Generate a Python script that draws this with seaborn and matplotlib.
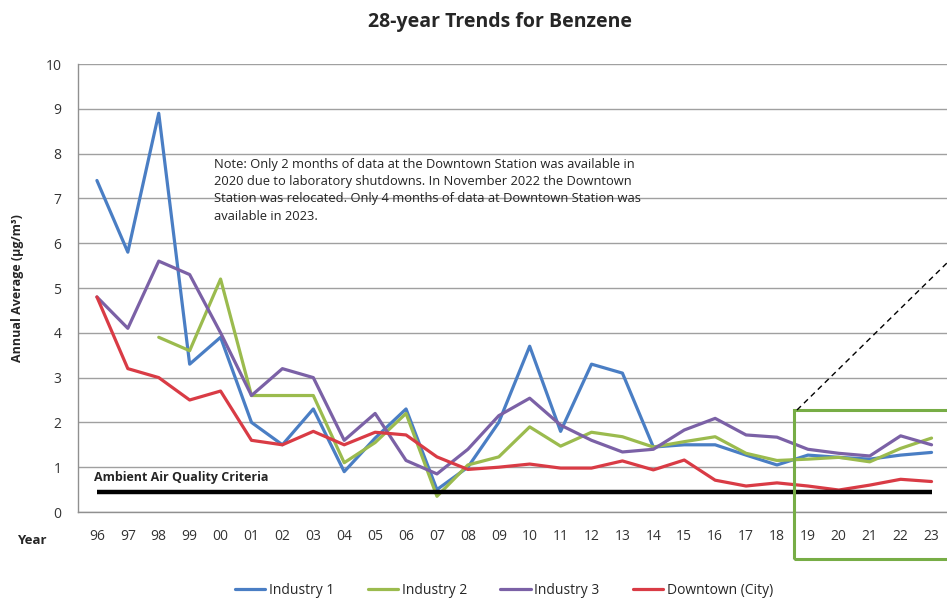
import numpy as np
import pandas as pd
import matplotlib
matplotlib.use("Agg")
import matplotlib.pyplot as plt
import seaborn as sns
from matplotlib.patches import Rectangle
from matplotlib.lines import Line2D

# annual averages (ug/m3)
years = ['96', '97', '98', '99', '00', '01', '02', '03', '04', '05', '06', '07', '08', '09',
         '10', '11', '12', '13', '14', '15', '16', '17', '18', '19', '20', '21', '22', '23']
industry1 = [7.4, 5.8, 8.9, 3.3, 3.9, 2.0, 1.5, 2.3, 0.9, 1.65, 2.3, 0.5, 1.0, 2.0,
             3.7, 1.8, 3.3, 3.1, 1.45, 1.5, 1.5, 1.27, 1.05, 1.27, 1.22, 1.18, 1.27, 1.33]
industry2 = [np.nan, np.nan, 3.9, 3.6, 5.2, 2.6, 2.6, 2.6, 1.1, 1.55, 2.2, 0.35, 1.05, 1.23,
             1.9, 1.47, 1.78, 1.68, 1.45, 1.57, 1.68, 1.31, 1.15, 1.18, 1.22, 1.12, 1.42, 1.65]
industry3 = [4.8, 4.1, 5.6, 5.3, 4.0, 2.6, 3.2, 3.0, 1.6, 2.2, 1.15, 0.85, 1.4, 2.15,
             2.54, 1.94, 1.6, 1.34, 1.4, 1.83, 2.09, 1.72, 1.67, 1.4, 1.31, 1.25, 1.7, 1.5]
downtown = [4.8, 3.2, 3.0, 2.5, 2.7, 1.6, 1.5, 1.8, 1.5, 1.78, 1.72, 1.23, 0.95, 1.0,
            1.07, 0.98, 0.98, 1.14, 0.94, 1.16, 0.71, 0.58, 0.65, 0.58, 0.49, 0.6, 0.73, 0.68]
series_names = ['Industry 1', 'Industry 2', 'Industry 3', 'Downtown (City)']
criteria = 0.45

colors = {'Industry 1': '#4A7EC4', 'Industry 2': '#9BBB4E',
          'Industry 3': '#7B61A6', 'Downtown (City)': '#D93B45'}

rows = []
for name, vals in zip(series_names, [industry1, industry2, industry3, downtown]):
    for i, v in enumerate(vals):
        rows.append({'idx': i, 'value': v, 'series': name})
df = pd.DataFrame(rows).dropna()

sns.set_style('white')
plt.rcParams['font.family'] = ['Open Sans', 'DejaVu Sans']

fig = plt.figure(figsize=(9.47, 6.0), dpi=100)
ax = fig.add_axes([78 / 947, 88 / 600, 869 / 947, 448 / 600])

sns.lineplot(data=df, x='idx', y='value', hue='series', hue_order=series_names,
             palette=colors, linewidth=2.3, ax=ax, legend=False, sort=False)

# ambient criteria line
ax.plot([0, len(years) - 1], [criteria, criteria], color='black', lw=3.2,
        solid_capstyle='butt', zorder=3)
ax.text(-0.1, 0.76, 'Ambient Air Quality Criteria', fontsize=9, fontweight='bold',
        va='center', ha='left')

ax.set_xlim(-0.612, 27.39)
ax.set_ylim(0, 10)
ax.set_yticks(range(0, 11))
ax.set_xticks(range(len(years)))
ax.set_xticklabels(years, fontsize=10, color='#333333')
ax.set_xticks(np.arange(len(years)) + 0.5, minor=True)
ax.tick_params(axis='x', which='major', length=0, pad=12)
ax.tick_params(axis='x', which='minor', length=5, color='#909090', direction='out')
ax.tick_params(axis='y', length=4, color='#909090', labelsize=10, labelcolor='#333333', pad=8)
ax.set_xlabel('')
ax.set_ylabel('')
ax.yaxis.grid(True, color='#A0A0A0', lw=1)
ax.set_axisbelow(True)
for s in ['top', 'right']:
    ax.spines[s].set_visible(False)
for s in ['left', 'bottom']:
    ax.spines[s].set_color('#909090')
    ax.spines[s].set_linewidth(1)

ax.text(3.8, 7.9, 'Note: Only 2 months of data at the Downtown Station was available in\n'
        '2020 due to laboratory shutdowns. In November 2022 the Downtown\n'
        'Station was relocated. Only 4 months of data at Downtown Station was\n'
        'available in 2023.', fontsize=9.3, va='top', ha='left', linespacing=1.42,
        color='#222222')

fig.text(0.528, 1 - 22 / 600, '28-year Trends for Benzene', fontsize=14,
         fontweight='bold', ha='center', va='center')
fig.text(18 / 947, 1 - 288 / 600, 'Annual Average (µg/m³)', fontsize=9,
         fontweight='bold', rotation=90, ha='center', va='center')
fig.text(32 / 947, 1 - 540 / 600, 'Year', fontsize=9.5, fontweight='bold',
         ha='center', va='center')

# highlight box for recent years + dashed leader
fig.add_artist(Rectangle((794 / 947, 1 - 559 / 600), 170 / 947, 149 / 600,
                         transform=fig.transFigure, fill=False, ec='#77AD46', lw=2.2,
                         clip_on=False))
fig.add_artist(Line2D([797 / 947, 950 / 947], [1 - 410 / 600, 1 - 260 / 600],
                      transform=fig.transFigure, color='black', lw=1, ls=(0, (4, 3))))

handles = [Line2D([], [], color=colors[n], lw=2.3) for n in series_names]
fig.legend(handles, series_names, loc='center', bbox_to_anchor=(504 / 947, 1 - 590 / 600),
           ncol=4, frameon=False, fontsize=10, handlelength=2.2, handletextpad=0.25,
           columnspacing=2.4)

fig.savefig('out.png', dpi=100)
